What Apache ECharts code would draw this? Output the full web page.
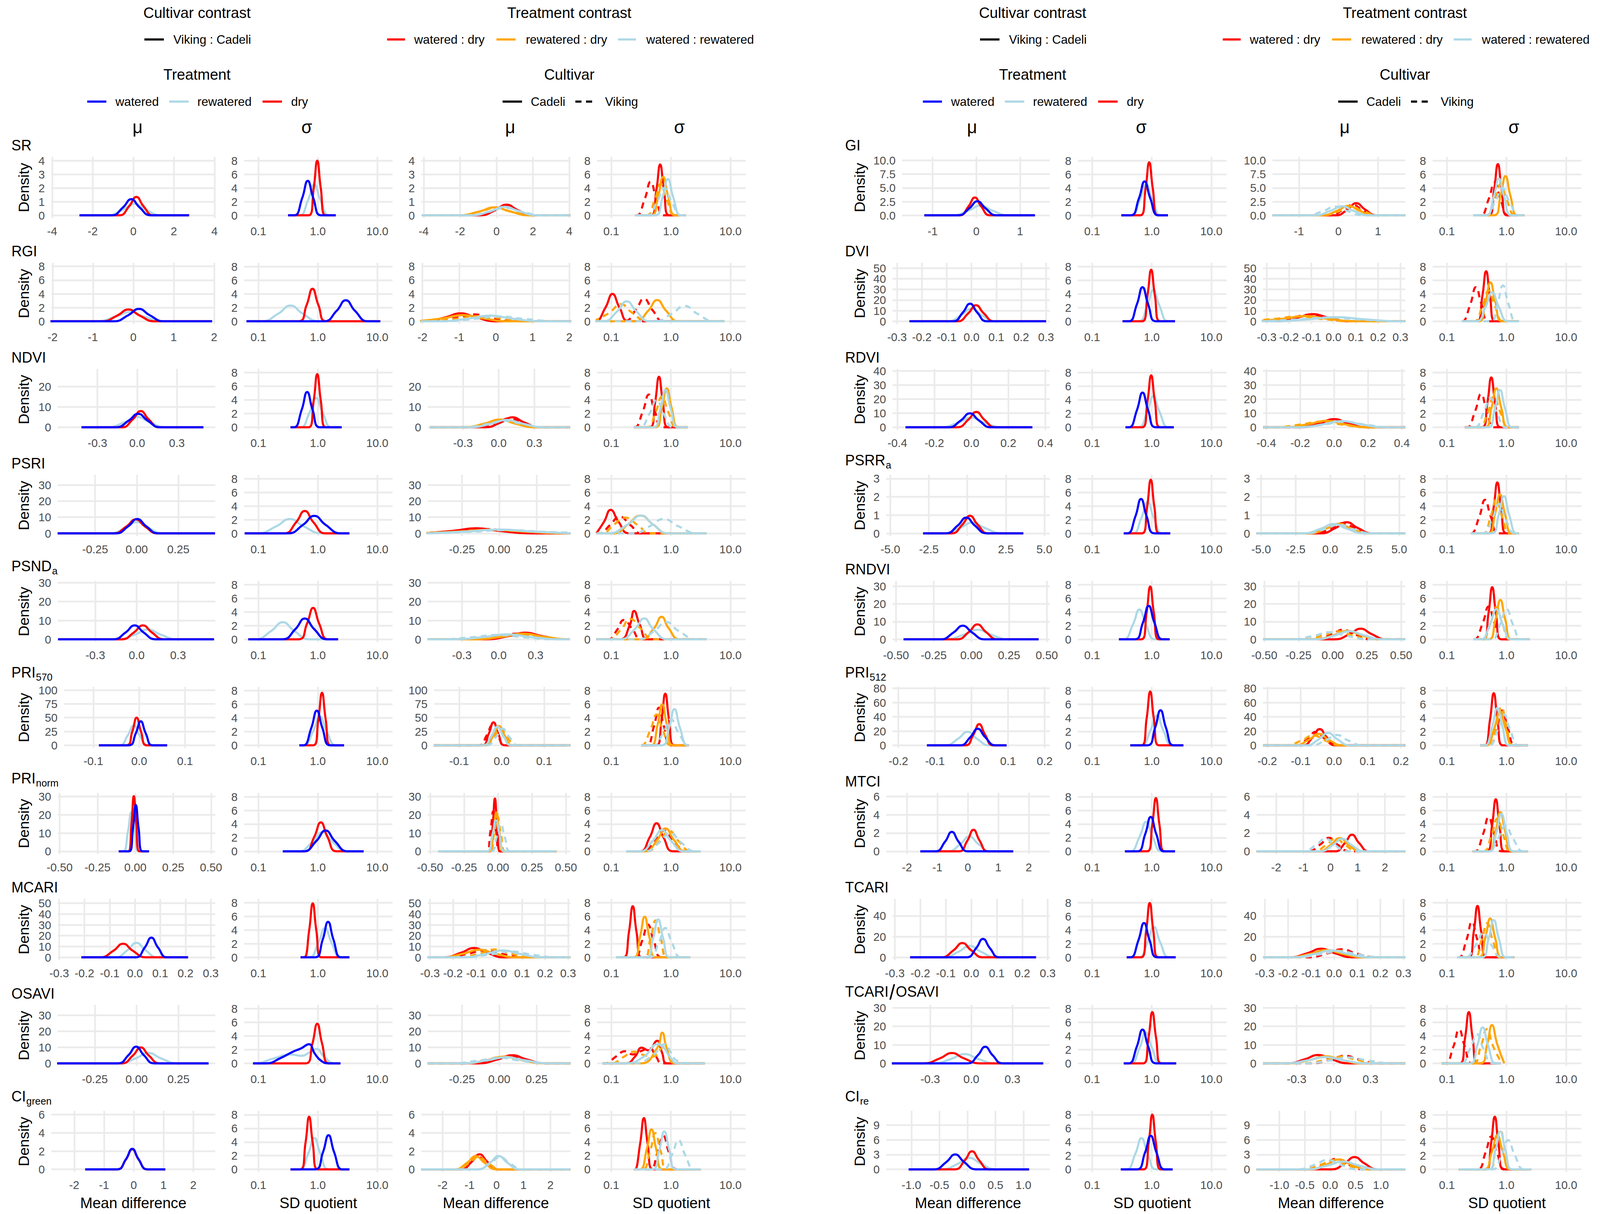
<!DOCTYPE html>
<html><head><meta charset="utf-8">
<script src="https://cdn.jsdelivr.net/npm/echarts@6/dist/echarts.min.js"></script>
<style>html,body{margin:0;padding:0;background:#fff;overflow:hidden}#c{width:4199px;height:3107px;transform-origin:0 0}</style>
</head><body><div id="c"></div>
<script>
// ---------------- DATA ----------------
// Row labels [main, subscript]
const namesLeft = [['SR',''],['RGI',''],['NDVI',''],['PSRI',''],['PSND','a'],['PRI','570'],['PRI','norm'],['MCARI',''],['OSAVI',''],['CI','green']];
const namesRight = [['GI',''],['DVI',''],['RDVI',''],['PSRR','a'],['RNDVI',''],['PRI','512'],['MTCI',''],['TCARI',''],['TCARI/OSAVI',''],['CI','re']];

// Mean-difference panels: x limits [cultivar-contrast panel, treatment-contrast panel]
const muXLimLeft = [[[-4.04,4.04],[-4.13,4.06]],[[-2.03,2.03],[-2.03,2.03]],[[-0.6,0.59],[-0.597,0.603]],[[-0.475,0.472],[-0.48,0.477]],[[-0.573,0.57],[-0.578,0.584]],[[-0.164,0.166],[-0.159,0.162]],[[-0.513,0.528],[-0.518,0.533]],[[-0.306,0.318],[-0.31,0.31]],[[-0.472,0.47],[-0.48,0.477]],[[-2.77,2.74],[-2.79,2.74]]];
const muXTicksLeft = [[-4,-2,0,2,4],[-2,-1,0,1,2],[-0.3,0,0.3],[-0.25,0,0.25],[-0.3,0,0.3],[-0.1,0,0.1],[-0.5,-0.25,0,0.25,0.5],[-0.3,-0.2,-0.1,0,0.1,0.2,0.3],[-0.25,0,0.25],[-2,-1,0,1,2]];
const muXDecLeft = [0,0,1,2,1,1,2,1,2,0];
const muYTicksLeft = [[0,1,2,3,4],[0,2,4,6,8],[0,10,20],[0,10,20,30],[0,10,20,30],[0,25,50,75,100],[0,10,20,30],[0,10,20,30,40,50],[0,10,20,30],[0,2,4,6]];
const muYMaxLeft = [4.07,8.1,27.4,34.5,29.5,100.6,30.5,51.4,34.7,6.1];
const muYDecLeft = [0,0,0,0,0,0,0,0,0,0];

const muXLimRight = [[[-1.7,1.68],[-1.67,1.69]],[[-0.318,0.315],[-0.317,0.322]],[[-0.426,0.424],[-0.42,0.42]],[[-5.27,5.35],[-5.33,5.44]],[[-0.523,0.52],[-0.51,0.53]],[[-0.216,0.214],[-0.213,0.213]],[[-2.68,2.69],[-2.72,2.75]],[[-0.309,0.308],[-0.308,0.308]],[[-0.575,0.572],[-0.573,0.582]],[[-1.45,1.47],[-1.45,1.48]]];
const muXTicksRight = [[-1,0,1],[-0.3,-0.2,-0.1,0,0.1,0.2,0.3],[-0.4,-0.2,0,0.2,0.4],[-5,-2.5,0,2.5,5],[-0.5,-0.25,0,0.25,0.5],[-0.2,-0.1,0,0.1,0.2],[-2,-1,0,1,2],[-0.3,-0.2,-0.1,0,0.1,0.2,0.3],[-0.3,0,0.3],[-1,-0.5,0,0.5,1]];
const muXDecRight = [0,1,1,1,2,1,0,1,1,1];
const muYTicksRight = [[0,2.5,5,7.5,10],[0,10,20,30,40,50],[0,10,20,30,40],[0,1,2,3],[0,10,20,30],[0,20,40,60,80],[0,2,4,6],[0,20,40],[0,10,20,30],[0,3,6,9]];
const muYMaxRight = [10.15,52.3,39.5,3.05,31.4,78,6.07,53.6,30.1,11.3];
const muYDecRight = [1,0,0,0,0,0,0,0,0,0];

// SD-quotient panels (x in log10 of the quotient)
const sdXLim = [-1.24, 1.255];
const sdXTicks = [-1, 0, 1];
const sdYTicks = [0, 2, 4, 6, 8];
const sdYMax = 8.15;

// Curves: [left foot, left half-max, peak, right half-max, right foot, peak density]
// or, for irregular shapes, an explicit list of [x, density] points.
// Cultivar contrast (Viking : Cadeli), per row: [watered, rewatered, dry]
const cvMuLeft = [
 [[-1.06,-0.5,-0.1,0.3,0.86,1.18],[-1.27,-0.5,0.05,0.6,1.37,0.85],[-0.69,-0.2,0.15,0.5,0.99,1.34]],
 [[-0.48,-0.12,0.14,0.4,0.76,1.81],[-0.92,-0.43,-0.08,0.27,0.76,1.35],[-0.77,-0.39,-0.12,0.15,0.53,1.72]],
 [[-0.16,-0.062,0.008,0.078,0.176,6.67],[-0.221,-0.092,0,0.092,0.221,5.1],[-0.115,-0.032,0.027,0.086,0.169,8.0]],
 [[-0.124,-0.05,0.003,0.056,0.13,8.9],[-0.161,-0.067,0,0.067,0.161,7.0],[-0.138,-0.061,-0.006,0.049,0.126,8.6]],
 [[-0.169,-0.079,-0.015,0.049,0.139,7.4],[-0.136,-0.01,0.08,0.17,0.296,5.2],[-0.109,-0.019,0.045,0.109,0.199,7.4]],
 [[-0.0225,-0.0074,0.0034,0.0142,0.0293,43.4],[-0.0432,-0.025,-0.012,0.001,0.0192,35.8],[-0.0282,-0.015,-0.0056,0.0038,0.017,50]],
 [[-0.041,-0.0155,0.003,0.0215,0.047,25.4],[-0.08,-0.049,-0.027,-0.005,0.026,21.4],[-0.047,-0.0256,-0.01,0.0056,0.027,30.2]],
 [[0.003,0.039,0.065,0.091,0.127,18.2],[-0.078,-0.029,0.006,0.041,0.09,13.4],[-0.137,-0.084,-0.047,-0.01,0.043,12.6]],
 [[-0.111,-0.048,-0.003,0.042,0.105,10.4],[-0.103,-0.002,0.07,0.142,0.243,6.5],[-0.088,-0.022,0.025,0.072,0.138,9.9]],
 [[-0.55,-0.26,-0.05,0.16,0.45,2.24],[-0.56,-0.26,-0.05,0.16,0.46,2.2],[-0.56,-0.26,-0.05,0.16,0.46,2.2]]
];
const cvSdLeft = [
 [[-0.393,-0.263,-0.17,-0.077,0.053,5.05],[-0.31,-0.164,-0.06,0.044,0.19,4.5],[-0.152,-0.069,-0.01,0.049,0.132,8.0]],
 [[0.103,0.317,0.47,0.623,0.837,3.08],[-0.94,-0.66,-0.46,-0.26,0.02,2.3],[-0.328,-0.189,-0.09,0.009,0.148,4.77]],
 [[-0.398,-0.271,-0.18,-0.089,0.038,5.17],[-0.294,-0.14,-0.03,0.08,0.234,4.3],[-0.154,-0.07,-0.01,0.05,0.134,7.78]],
 [[-0.502,-0.244,-0.06,0.124,0.382,2.56],[-1.008,-0.694,-0.47,-0.246,0.068,2.1],[-0.566,-0.364,-0.22,-0.076,0.126,3.27]],
 [[-0.592,-0.375,-0.22,-0.065,0.152,3.04],[-1.046,-0.78,-0.59,-0.4,-0.134,2.5],[-0.325,-0.182,-0.08,0.022,0.165,4.6]],
 [[-0.24,-0.11,-0.017,0.076,0.206,5.08],[-0.234,-0.077,0.035,0.147,0.304,4.2],[-0.076,0.009,0.07,0.131,0.216,7.7]],
 [[-0.24,-0.024,0.13,0.284,0.5,3.05],[-0.323,-0.088,0.08,0.248,0.483,2.8],[-0.216,-0.061,0.05,0.161,0.316,4.24]],
 [[-0.044,0.082,0.172,0.262,0.388,5.2],[-0.144,0.01,0.12,0.23,0.384,4.3],[-0.23,-0.146,-0.086,-0.026,0.058,7.9]],
 [[[-0.87,0],[-0.62,0.8],[-0.42,1.7],[-0.28,2.2],[-0.15,2.8],[-0.05,1.4],[0.05,0.4],[0.18,0]],
  [[-1.05,0],[-0.75,0.7],[-0.45,1.3],[-0.28,1.1],[-0.12,1.7],[-0.02,2.1],[0.1,1.0],[0.28,0]],
  [-0.204,-0.091,-0.01,0.071,0.184,5.8]],
 [[-0.046,0.086,0.18,0.274,0.406,5.0],[-0.305,-0.162,-0.06,0.042,0.185,4.6],[-0.293,-0.208,-0.147,-0.086,-0.001,7.7]]
];
// Treatment contrasts, per row: [watered:dry Cadeli, watered:dry Viking, rewatered:dry Cadeli, rewatered:dry Viking, watered:rewatered Cadeli, watered:rewatered Viking]
const trMuLeft = [
 [[-0.89,-0.05,0.55,1.15,1.99,0.78],[-1.11,-0.17,0.5,1.17,2.11,0.7],[-2.04,-0.91,-0.1,0.71,1.84,0.58],[-2.09,-0.9,-0.05,0.8,1.99,0.55],[-1.37,-0.31,0.45,1.21,2.27,0.62],[-1.54,-0.35,0.5,1.35,2.54,0.55]],
 [[-1.94,-1.37,-0.96,-0.55,0.02,1.15],[-1.73,-1.07,-0.6,-0.13,0.53,1.0],[-2.15,-1.42,-0.9,-0.38,0.35,0.9],[-1.91,-1.03,-0.4,0.23,1.11,0.75],[-1.52,-0.72,-0.15,0.42,1.22,0.82],[-1.51,-0.57,0.1,0.77,1.71,0.7]],
 [[-0.114,0.02,0.116,0.212,0.346,4.9],[-0.167,-0.017,0.09,0.197,0.347,4.4],[-0.288,-0.114,0.01,0.134,0.308,3.8],[-0.306,-0.11,0.03,0.17,0.366,3.3],[-0.242,-0.06,0.07,0.2,0.382,3.6],[-0.303,-0.097,0.05,0.197,0.403,3.2]],
 [[-0.516,-0.306,-0.156,-0.006,0.204,3.1],[-0.532,-0.28,-0.1,0.08,0.332,2.6],[-0.554,-0.26,-0.05,0.16,0.454,2.2],[-0.584,-0.255,-0.02,0.215,0.544,2.0],[-0.48,-0.2,0,0.2,0.48,2.35],[-0.514,-0.185,0.05,0.285,0.614,2.0]],
 [[-0.105,0.083,0.217,0.351,0.539,3.5],[-0.227,-0.007,0.15,0.307,0.527,3.0],[-0.177,0.043,0.2,0.357,0.577,3.0],[-0.346,-0.08,0.11,0.3,0.566,2.5],[-0.362,-0.11,0.07,0.25,0.502,2.6],[-0.49,-0.21,-0.01,0.19,0.47,2.3]],
 [[-0.0461,-0.0303,-0.019,-0.0077,0.0081,41.5],[-0.0532,-0.035,-0.022,-0.009,0.0092,36],[-0.0384,-0.0195,-0.006,0.0075,0.0264,34.7],[-0.0407,-0.0187,-0.003,0.0127,0.0347,30],[-0.0436,-0.024,-0.01,0.004,0.0236,33.6],[-0.0352,-0.0132,0.0025,0.0182,0.0402,30]],
 [[-0.062,-0.039,-0.023,-0.007,0.016,28.9],[-0.086,-0.056,-0.035,-0.014,0.016,22],[-0.065,-0.034,-0.012,0.01,0.041,21.3],[-0.064,-0.029,-0.004,0.021,0.056,19],[-0.081,-0.043,-0.015,0.013,0.051,17],[-0.054,-0.011,0.02,0.051,0.094,15]],
 [[-0.241,-0.164,-0.109,-0.054,0.023,8.6],[-0.237,-0.136,-0.064,0.008,0.109,6.5],[-0.247,-0.153,-0.086,-0.019,0.075,7.0],[-0.174,-0.083,-0.018,0.047,0.138,7.2],[-0.159,-0.057,0.016,0.089,0.191,6.4],[-0.154,-0.035,0.05,0.135,0.254,5.5]],
 [[-0.139,-0.007,0.087,0.181,0.313,5.0],[-0.204,-0.05,0.06,0.17,0.324,4.3],[-0.234,-0.077,0.035,0.147,0.304,4.2],[-0.271,-0.103,0.017,0.137,0.305,3.9],[-0.253,-0.079,0.045,0.169,0.343,3.8],[-0.331,-0.138,0,0.138,0.331,3.4]],
 [[-1.31,-0.92,-0.63,-0.34,0.05,1.65],[-1.47,-1.04,-0.73,-0.42,0.01,1.5],[-1.54,-1.09,-0.77,-0.45,0.0,1.45],[-1.51,-1.02,-0.67,-0.32,0.17,1.35],[-0.69,-0.24,0.08,0.4,0.85,1.46],[-0.71,-0.22,0.13,0.48,0.97,1.35]]
];
const trSdLeft = [
 [[-0.331,-0.243,-0.18,-0.117,-0.029,7.44],[-0.57,-0.436,-0.34,-0.244,-0.11,4.9],[-0.332,-0.214,-0.13,-0.046,0.072,5.6],[-0.41,-0.27,-0.17,-0.07,0.07,4.6],[-0.264,-0.139,-0.05,0.039,0.164,5.3],[-0.398,-0.23,-0.11,0.01,0.178,4.0]],
 [[-1.263,-1.098,-0.98,-0.862,-0.697,4.0],[-0.786,-0.59,-0.45,-0.31,-0.114,3.3],[-0.59,-0.38,-0.23,-0.08,0.13,3.1],[-1.296,-1.03,-0.84,-0.65,-0.384,2.5],[-1.124,-0.9,-0.74,-0.58,-0.356,2.92],[-0.274,0.02,0.23,0.44,0.734,2.25]],
 [[-0.354,-0.264,-0.2,-0.136,-0.046,7.4],[-0.605,-0.468,-0.37,-0.272,-0.135,4.8],[-0.267,-0.152,-0.07,0.012,0.127,5.7],[-0.402,-0.255,-0.15,-0.045,0.102,4.5],[-0.296,-0.176,-0.09,-0.004,0.116,5.45],[-0.523,-0.358,-0.24,-0.122,0.043,4.0]],
 [[-1.25,-1.12,-1.01,-0.88,-0.7,3.43],[-1.2,-1.02,-0.86,-0.68,-0.5,2.44],[-0.95,-0.72,-0.51,-0.3,-0.05,2.6],[-1.15,-0.97,-0.77,-0.55,-0.35,2.3],[-1.05,-0.72,-0.5,-0.3,-0.05,2.6],[-0.62,-0.35,-0.12,0.12,0.45,2.1]],
 [[-0.85,-0.69,-0.617,-0.52,-0.38,4.14],[-1.05,-0.9,-0.79,-0.64,-0.5,2.83],[-0.5,-0.28,-0.156,-0.04,0.15,3.3],[-1.05,-0.83,-0.686,-0.5,-0.3,3.0],[-0.85,-0.6,-0.448,-0.3,-0.05,3.06],[-0.55,-0.27,-0.08,0.12,0.45,2.54]],
 [[-0.243,-0.156,-0.094,-0.032,0.055,7.57],[-0.404,-0.285,-0.2,-0.115,0.004,5.5],[-0.332,-0.223,-0.145,-0.067,0.042,6.0],[-0.49,-0.344,-0.24,-0.136,0.01,4.5],[-0.154,-0.029,0.06,0.149,0.274,5.3],[-0.298,-0.124,0,0.124,0.298,3.8]],
 [[-0.516,-0.355,-0.24,-0.125,0.036,4.1],[-0.487,-0.267,-0.11,0.047,0.267,3.0],[-0.426,-0.23,-0.09,0.05,0.246,3.35],[-0.407,-0.187,-0.03,0.127,0.347,3.0],[-0.515,-0.302,-0.15,0.002,0.215,3.1],[-0.428,-0.184,-0.01,0.164,0.408,2.7]],
 [[-0.791,-0.703,-0.64,-0.577,-0.489,7.48],[-0.62,-0.483,-0.385,-0.287,-0.15,4.8],[-0.63,-0.519,-0.44,-0.361,-0.25,5.94],[-0.465,-0.343,-0.256,-0.169,-0.047,5.4],[-0.418,-0.299,-0.214,-0.129,-0.01,5.55],[-0.358,-0.204,-0.094,0.016,0.17,4.3]],
 [[[-0.75,0],[-0.6,1.0],[-0.49,2.3],[-0.38,1.9],[-0.23,3.3],[-0.15,1.6],[-0.06,0]],
  [[-1.1,0],[-0.92,1.0],[-0.77,1.76],[-0.64,1.3],[-0.5,1.8],[-0.36,2.2],[-0.25,1.0],[-0.15,0]],
  [-0.5,-0.23,-0.144,-0.07,0.07,4.48],
  [[-1.0,0],[-0.8,0.9],[-0.62,1.7],[-0.45,1.2],[-0.3,1.0],[-0.12,2.4],[-0.02,1.0],[0.1,0]],
  [[-0.75,0],[-0.45,1.0],[-0.22,2.8],[-0.12,2.3],[-0.02,1.0],[0.12,0]],
  [[-0.6,0],[-0.3,1.2],[-0.1,2.8],[0.0,1.6],[0.1,0.4],[0.35,0]]],
 [[-0.604,-0.516,-0.453,-0.39,-0.302,7.5],[-0.358,-0.224,-0.128,-0.032,0.102,4.9],[-0.517,-0.405,-0.325,-0.245,-0.133,5.85],[-0.474,-0.349,-0.26,-0.171,-0.046,5.3],[-0.314,-0.195,-0.11,-0.025,0.094,5.55],[-0.136,0.018,0.128,0.238,0.392,4.25]]
];
const cvMuRight = [
 [[-0.415,-0.159,0.024,0.207,0.463,2.57],[-0.547,-0.173,0.094,0.361,0.735,1.76],[-0.383,-0.18,-0.035,0.11,0.313,3.24]],
 [[-0.074,-0.035,-0.006,0.023,0.062,16.5],[-0.096,-0.04,0,0.04,0.096,11.8],[-0.056,-0.013,0.018,0.049,0.092,15.1]],
 [[-0.122,-0.056,-0.008,0.04,0.106,9.9],[-0.166,-0.069,0,0.069,0.166,6.8],[-0.076,-0.016,0.027,0.07,0.13,10.9]],
 [[-1.39,-0.62,-0.07,0.48,1.25,0.86],[-1.59,-0.47,0.33,1.13,2.25,0.59],[-1.01,-0.32,0.17,0.66,1.35,0.96]],
 [[-0.203,-0.118,-0.057,0.004,0.089,7.7],[-0.169,-0.047,0.04,0.127,0.249,5.4],[-0.094,-0.016,0.04,0.096,0.174,8.4]],
 [[-0.031,-0.003,0.017,0.037,0.065,23.3],[-0.071,-0.036,-0.011,0.014,0.049,18.9],[-0.017,0.005,0.021,0.037,0.059,29.7]],
 [[-1.053,-0.745,-0.525,-0.305,0.003,2.12],[-0.646,-0.24,0.05,0.34,0.746,1.62],[-0.294,-0.014,0.186,0.386,0.666,2.34]],
 [[-0.018,0.019,0.046,0.073,0.11,17.7],[-0.109,-0.049,-0.006,0.037,0.097,11.0],[-0.117,-0.069,-0.035,-0.001,0.047,13.8]],
 [[-0.026,0.048,0.101,0.154,0.228,8.93],[-0.275,-0.143,-0.049,0.045,0.177,5.0],[-0.346,-0.227,-0.142,-0.057,0.062,5.56]],
 [[-0.592,-0.374,-0.218,-0.062,0.156,3.02],[-0.444,-0.164,0.036,0.236,0.516,2.33],[-0.225,-0.046,0.082,0.21,0.389,3.66]]
];
const cvSdRight = [
 [[-0.348,-0.215,-0.12,-0.025,0.108,4.96],[-0.345,-0.199,-0.095,0.009,0.155,4.5],[-0.189,-0.104,-0.043,0.018,0.103,7.75]],
 [[-0.381,-0.249,-0.155,-0.061,0.071,5.0],[-0.221,-0.077,0.026,0.129,0.273,4.55],[-0.159,-0.072,-0.01,0.052,0.139,7.54]],
 [[-0.378,-0.248,-0.155,-0.062,0.068,5.08],[-0.224,-0.078,0.026,0.13,0.276,4.52],[-0.159,-0.072,-0.01,0.052,0.139,7.6]],
 [[-0.403,-0.273,-0.18,-0.087,0.043,5.03],[-0.317,-0.173,-0.07,0.033,0.177,4.57],[-0.161,-0.077,-0.017,0.043,0.127,7.84]],
 [[-0.282,-0.148,-0.052,0.044,0.178,4.9],[-0.466,-0.315,-0.207,-0.099,0.052,4.36],[-0.172,-0.087,-0.026,0.035,0.12,7.73]],
 [[-0.071,0.056,0.147,0.238,0.365,5.14],[-0.173,-0.022,0.086,0.194,0.345,4.36],[-0.17,-0.086,-0.026,0.034,0.118,7.88]],
 [[-0.24,-0.11,-0.017,0.076,0.206,5.04],[-0.357,-0.204,-0.095,0.014,0.167,4.3],[-0.075,0.009,0.069,0.129,0.213,7.8]],
 [[-0.353,-0.223,-0.13,-0.037,0.093,5.03],[-0.217,-0.07,0.035,0.14,0.287,4.47],[-0.176,-0.093,-0.034,0.025,0.108,7.96]],
 [[-0.383,-0.25,-0.155,-0.06,0.073,4.94],[-0.35,-0.204,-0.1,0.004,0.15,4.5],[-0.142,-0.054,0.009,0.072,0.16,7.5]],
 [[-0.247,-0.113,-0.017,0.079,0.213,4.91],[-0.419,-0.275,-0.172,-0.069,0.075,4.57],[-0.133,-0.05,0.009,0.068,0.151,8.0]]
];
const trMuRight = [
 [[-0.064,0.236,0.45,0.664,0.964,2.2],[-0.233,0.113,0.36,0.607,0.953,1.9],[-0.403,-0.022,0.25,0.522,0.903,1.73],[-0.376,0.03,0.32,0.61,1.016,1.6],[-0.594,-0.195,0.09,0.375,0.774,1.65],[-0.8,-0.38,-0.08,0.22,0.64,1.58]],
 [[-0.261,-0.163,-0.093,-0.023,0.075,6.7],[-0.302,-0.193,-0.115,-0.037,0.072,6.0],[-0.353,-0.221,-0.127,-0.033,0.099,5.0],[-0.41,-0.264,-0.16,-0.056,0.09,4.5],[-0.276,-0.108,0.012,0.132,0.3,3.9],[-0.335,-0.153,-0.023,0.107,0.289,3.6]],
 [[-0.194,-0.081,0,0.081,0.194,5.8],[-0.231,-0.105,-0.015,0.075,0.201,5.2],[-0.291,-0.148,-0.046,0.056,0.199,4.6],[-0.36,-0.195,-0.077,0.041,0.206,4.0],[-0.211,-0.061,0.046,0.153,0.303,4.4],[-0.223,-0.058,0.06,0.178,0.343,4.0]],
 [[-0.66,0.42,1.19,1.96,3.04,0.61],[-1.09,0.09,0.93,1.77,2.95,0.56],[-1.53,-0.27,0.63,1.53,2.79,0.52],[-1.81,-0.49,0.45,1.39,2.71,0.5],[-1.95,-0.66,0.26,1.18,2.47,0.51],[-1.77,-0.37,0.63,1.63,3.03,0.47]],
 [[0.017,0.126,0.204,0.282,0.391,6.0],[-0.132,-0.01,0.077,0.164,0.286,5.4],[-0.127,0.01,0.108,0.206,0.343,4.8],[-0.212,-0.066,0.038,0.142,0.288,4.5],[-0.124,0.02,0.123,0.226,0.37,4.56],[-0.303,-0.138,-0.02,0.098,0.263,4.0]],
 [[-0.093,-0.064,-0.043,-0.022,0.007,22.7],[-0.113,-0.079,-0.054,-0.029,0.005,19],[-0.117,-0.075,-0.046,-0.017,0.025,16],[-0.144,-0.096,-0.062,-0.028,0.02,14],[-0.083,-0.045,-0.018,0.009,0.047,17.4],[-0.069,-0.024,0.008,0.04,0.085,14.5]],
 [[0.166,0.53,0.79,1.05,1.414,1.81],[-0.828,-0.38,-0.06,0.26,0.708,1.47],[-0.428,0.02,0.34,0.66,1.108,1.45],[-0.626,-0.15,0.19,0.53,1.006,1.4],[-0.386,0.09,0.43,0.77,1.246,1.38],[-1.006,-0.53,-0.19,0.15,0.626,1.38]],
 [[-0.193,-0.113,-0.056,0.001,0.081,8.3],[-0.113,-0.028,0.033,0.094,0.179,7.7],[-0.194,-0.1,-0.033,0.034,0.128,7.0],[-0.162,-0.061,0.011,0.083,0.184,6.5],[-0.181,-0.082,-0.011,0.06,0.159,6.6],[-0.172,-0.059,0.022,0.103,0.216,5.8]],
 [[-0.375,-0.229,-0.125,-0.021,0.125,4.54],[-0.184,-0.023,0.092,0.207,0.368,4.1],[-0.361,-0.187,-0.063,0.061,0.235,3.8],[-0.249,-0.067,0.063,0.193,0.375,3.6],[-0.399,-0.203,-0.063,0.077,0.273,3.37],[-0.228,-0.022,0.125,0.272,0.478,3.2]],
 [[0.029,0.292,0.48,0.668,0.931,2.5],[-0.408,-0.1,0.12,0.34,0.648,2.15],[-0.394,-0.065,0.17,0.405,0.734,2.0],[-0.53,-0.18,0.07,0.32,0.67,1.9],[-0.465,-0.045,0.255,0.555,0.975,1.57],[-0.638,-0.295,-0.05,0.195,0.538,1.92]]
];
const trSdRight = [
 [[-0.296,-0.208,-0.145,-0.082,0.006,7.5],[-0.435,-0.298,-0.2,-0.102,0.035,4.8],[-0.214,-0.099,-0.017,0.065,0.18,5.74],[-0.35,-0.204,-0.1,0.004,0.15,4.5],[-0.339,-0.216,-0.128,-0.04,0.083,5.36],[-0.353,-0.188,-0.07,0.048,0.213,4.0]],
 [[-0.496,-0.406,-0.342,-0.278,-0.188,7.33],[-0.739,-0.607,-0.513,-0.419,-0.287,5.0],[-0.467,-0.352,-0.27,-0.188,-0.073,5.7],[-0.55,-0.404,-0.3,-0.196,-0.05,4.5],[-0.504,-0.35,-0.24,-0.13,0.024,4.25],[-0.276,-0.15,-0.06,0.03,0.156,5.23]],
 [[-0.41,-0.32,-0.256,-0.192,-0.102,7.3],[-0.66,-0.524,-0.427,-0.33,-0.194,4.86],[-0.367,-0.252,-0.17,-0.088,0.027,5.7],[-0.46,-0.314,-0.21,-0.106,0.04,4.5],[-0.316,-0.196,-0.11,-0.024,0.096,5.45],[-0.537,-0.383,-0.273,-0.163,-0.009,4.3]],
 [[-0.305,-0.217,-0.154,-0.091,-0.003,7.44],[-0.59,-0.456,-0.36,-0.264,-0.13,4.9],[-0.309,-0.193,-0.11,-0.027,0.089,5.68],[-0.396,-0.264,-0.17,-0.076,0.056,5.0],[-0.252,-0.13,-0.043,0.044,0.166,5.43],[-0.392,-0.238,-0.128,-0.018,0.136,4.3]],
 [[-0.389,-0.302,-0.24,-0.178,-0.091,7.63],[-0.535,-0.398,-0.3,-0.202,-0.065,4.8],[-0.3,-0.185,-0.103,-0.021,0.094,5.76],[-0.41,-0.27,-0.17,-0.07,0.07,4.7],[-0.427,-0.277,-0.17,-0.063,0.087,4.4],[-0.254,-0.106,0,0.106,0.254,4.42]],
 [[-0.363,-0.276,-0.214,-0.152,-0.065,7.63],[-0.291,-0.162,-0.07,0.022,0.151,5.1],[-0.336,-0.204,-0.11,-0.016,0.116,5.0],[-0.287,-0.169,-0.085,-0.001,0.117,5.6],[-0.36,-0.24,-0.154,-0.068,0.052,5.45],[-0.293,-0.147,-0.043,0.061,0.207,4.5]],
 [[-0.329,-0.242,-0.18,-0.118,-0.031,7.63],[-0.526,-0.394,-0.3,-0.206,-0.074,5.0],[-0.3,-0.185,-0.103,-0.021,0.094,5.72],[-0.389,-0.252,-0.154,-0.056,0.081,4.8],[-0.291,-0.171,-0.085,0.001,0.121,5.47],[-0.315,-0.141,-0.017,0.107,0.281,3.8]],
 [[-0.636,-0.549,-0.487,-0.425,-0.338,7.53],[-0.796,-0.67,-0.58,-0.49,-0.364,5.2],[-0.473,-0.357,-0.274,-0.191,-0.075,5.68],[-0.551,-0.419,-0.325,-0.231,-0.099,5.0],[-0.42,-0.3,-0.214,-0.128,-0.008,5.46],[-0.697,-0.515,-0.385,-0.255,-0.073,3.6]],
 [[-0.783,-0.695,-0.632,-0.569,-0.481,7.5],[-1.023,-0.89,-0.795,-0.7,-0.567,4.94],[-0.442,-0.324,-0.245,-0.156,-0.038,5.6],[-0.57,-0.43,-0.33,-0.225,-0.08,5.0],[-0.616,-0.49,-0.4,-0.31,-0.184,5.26],[-0.769,-0.612,-0.49,-0.388,-0.231,4.26]],
 [[-0.343,-0.258,-0.197,-0.136,-0.051,7.7],[-0.491,-0.354,-0.256,-0.158,-0.021,4.8],[-0.38,-0.248,-0.154,-0.06,0.072,5.0],[-0.297,-0.184,-0.103,-0.022,0.091,5.77],[-0.307,-0.188,-0.103,-0.018,0.101,5.55],[-0.238,-0.084,0.026,0.136,0.29,4.27]]
];
// Flat zero-density extent drawn in each panel [from, to], per row: 4 panels
const tailsLeft = [
 [[-2.65,2.75],[-0.5,0.3],[-4.1,4.06],[-0.6,0.25]],
 [[-2.05,1.95],[-1.2,1.05],[-2.05,2.05],[-1.3,0.9]],
 [[-0.42,0.5],[-0.46,0.4],[-0.58,0.6],[-0.62,0.28]],
 [[-0.475,0.47],[-1.23,0.53],[-0.48,0.477],[-1.25,0.6]],
 [[-0.57,0.56],[-1.17,0.34],[-0.58,0.58],[-1.25,0.6]],
 [[-0.088,0.061],[-0.31,0.44],[-0.16,0.162],[-0.5,0.3]],
 [[-0.11,0.09],[-0.59,0.77],[-0.44,0.43],[-0.75,0.5]],
 [[-0.212,0.21],[-0.29,0.53],[-0.31,0.31],[-0.92,0.32]],
 [[-0.475,0.43],[-1.09,0.38],[-0.48,0.477],[-1.15,0.57]],
 [[-1.63,1.06],[-0.46,0.53],[-2.79,2.74],[-0.62,0.5]]
];
const tailsRight = [
 [[-1.19,1.34],[-0.51,0.27],[-1.67,1.69],[-0.55,0.3]],
 [[-0.25,0.3],[-0.49,0.39],[-0.317,0.322],[-0.75,0.21]],
 [[-0.356,0.33],[-0.44,0.37],[-0.42,0.42],[-0.7,0.21]],
 [[-2.87,3.63],[-0.47,0.31],[-5.33,5.44],[-0.6,0.21]],
 [[-0.45,0.446],[-0.55,0.3],[-0.51,0.53],[-0.55,0.385]],
 [[-0.122,0.096],[-0.36,0.53],[-0.213,0.213],[-0.44,0.36]],
 [[-1.56,1.49],[-0.45,0.39],[-2.72,2.75],[-0.57,0.36]],
 [[-0.24,0.254],[-0.42,0.4],[-0.308,0.308],[-0.83,0.13]],
 [[-0.58,0.524],[-0.47,0.41],[-0.573,0.582],[-1.09,-0.1]],
 [[-1.05,1.1],[-0.52,0.35],[-1.45,1.48],[-0.8,0.41]]
];

// ---------------- STYLE / LAYOUT ----------------
// The browser viewport may be narrower than the design width; squeeze horizontally to fit.
const DESIGN_W = 4199;
const fitScale = Math.min(1, window.innerWidth / DESIGN_W);
document.getElementById('c').style.transform = 'scaleX(' + fitScale + ')';

const FONT = '"Liberation Sans", Arial, Helvetica, sans-serif';
const TICK_FS = 30, TITLE_FS = 38, LEG_FS = 32, SUB_FS = 26;
const GRID_COL = '#EBEBEB', GRID_W = 4.5, LINE_W = 5.5, DASH = [16, 12];
const BLUE = '#0000FF', LBLUE = '#ADD8E6', RED = '#FF0000', ORANGE = '#FFA500';
const TRT_STYLE = [{color: BLUE}, {color: LBLUE}, {color: RED}];           // watered, rewatered, dry
const TRT_ORDER = [1, 2, 0];                                               // drawing order
const CON_STYLE = [{color: RED}, {color: RED, dash: true}, {color: ORANGE}, {color: ORANGE, dash: true}, {color: LBLUE}, {color: LBLUE, dash: true}];

const halves = [
  {names: namesLeft, muLim: muXLimLeft, muTicks: muXTicksLeft, muDec: muXDecLeft, yTicks: muYTicksLeft, yMax: muYMaxLeft, yDec: muYDecLeft,
   cvMu: cvMuLeft, cvSd: cvSdLeft, trMu: trMuLeft, trSd: trSdLeft, tails: tailsLeft,
   labelStart: [101, 607, 1072, 1533], rightEdge: [565, 1030, 1497, 1957], rowLabelX: 30, densX: 63, dxLeg: 0, dxHead: 0},
  {names: namesRight, muLim: muXLimRight, muTicks: muXTicksRight, muDec: muXDecRight, yTicks: muYTicksRight, yMax: muYMaxRight, yDec: muYDecRight,
   cvMu: cvMuRight, cvSd: cvSdRight, trMu: trMuRight, trSd: trSdRight, tails: tailsRight,
   labelStart: [2292, 2795, 3264, 3726], rightEdge: [2755, 3219, 3688, 4150], rowLabelX: 2218, densX: 2257, dxLeg: 2193, dxHead: 2190}
];

const ctx = document.createElement('canvas').getContext('2d');
function tw(s, size) { ctx.font = size + 'px ' + FONT; return ctx.measureText(s).width; }
function rowY0(r) { return 551 + 271.3 * r; }

const grids = [], xAxes = [], yAxes = [], series = [], graphics = [];

function curvePoints(c, tail) {
  let pts;
  if (Array.isArray(c[0])) pts = c.map(p => p.slice());
  else pts = [[c[0], 0], [c[1], c[5] / 2], [c[2], c[5]], [c[3], c[5] / 2], [c[4], 0]];
  if (tail[0] < pts[0][0]) pts.unshift([tail[0], 0]);
  if (tail[1] > pts[pts.length - 1][0]) pts.push([tail[1], 0]);
  return pts;
}

// gridTicks: where split lines go; labelTicks: which of them carry a label
function axisCommon(gridTicks, labelTicks, fmt, margin, showGrid) {
  return {
    type: 'value', axisLine: {show: false},
    axisTick: {show: false, customValues: gridTicks},
    splitLine: {show: showGrid, lineStyle: {color: GRID_COL, width: GRID_W}},
    axisLabel: {customValues: labelTicks, formatter: fmt, fontSize: TICK_FS, color: '#4D4D4D', fontFamily: FONT,
                margin: margin, hideOverlap: false, showMinLabel: true, showMaxLabel: true}
  };
}

function addPanel(H, r, c, xlim, xticks, xfmt, yticks, ymax, yfmt, curves, tail) {
  const gi = grids.length;
  const maxW = Math.max.apply(null, yticks.map(v => tw(yfmt(v), TICK_FS)));
  const left = H.labelStart[c] + maxW + 17;
  const Y0 = rowY0(r);
  grids.push({left: left, top: Y0 - 149.6, width: H.rightEdge[c] - left, height: 156.7, outerBoundsMode: 'none', containLabel: false});
  xAxes.push(Object.assign({gridIndex: gi, min: xlim[0], max: xlim[1]}, axisCommon(xticks, xticks, xfmt, 18, true)));
  // y tick labels are split over two coincident axes (even / odd ticks) so that the
  // closely spaced labels are all kept, as in the original figure
  const even = yticks.filter((v, i) => i % 2 === 0), odd = yticks.filter((v, i) => i % 2 === 1);
  const yi = yAxes.length;
  const yr = {min: -0.05 * ymax, max: 1.05 * ymax};
  yAxes.push(Object.assign({gridIndex: gi, position: 'left'}, yr, axisCommon(yticks, even, yfmt, 17, true)));
  if (odd.length) yAxes.push(Object.assign({gridIndex: gi, position: 'left', offset: 0}, yr, axisCommon(odd, odd, yfmt, 17, false)));
  curves.forEach(([cv, st]) => {
    series.push({
      type: 'line', xAxisIndex: gi, yAxisIndex: yi, data: curvePoints(cv, tail),
      smooth: 0.5, symbol: 'none', showSymbol: false, clip: true, silent: true,
      lineStyle: {color: st.color, width: LINE_W, type: st.dash ? DASH : 'solid', cap: 'butt'},
      emphasis: {disabled: true}
    });
  });
  return {left: left, right: H.rightEdge[c]};
}

function addText(x, y, s, size, opts) {
  const o = opts || {};
  graphics.push({
    type: 'text', x: x, y: y, rotation: o.rotation || 0, silent: true,
    style: {text: s, font: size + 'px ' + FONT, fill: o.fill || '#000000',
            align: o.align || 'center', textAlign: o.align || 'center',
            verticalAlign: 'middle', textVerticalAlign: 'middle'}
  });
}
function addKey(x1, x2, y, color, dash) {
  graphics.push({type: 'line', silent: true, shape: {x1: x1, y1: y, x2: x2, y2: y},
    style: {stroke: color, lineWidth: LINE_W, lineDash: dash ? DASH : null}});
}
function rowLabel(x, Y0, name) {
  const main = name[0], sub = name[1];
  if (main.indexOf('/') >= 0) {
    const y = Y0 - 184;
    const parts = main.split('/');
    addText(x, y, parts[0], TITLE_FS, {align: 'left'});
    const x2 = x + tw(parts[0], TITLE_FS) + 2;
    addText(x2, y + 2, '/', 54, {align: 'left'});
    addText(x2 + tw('/', 54) + 2, y, parts[1], TITLE_FS, {align: 'left'});
    return;
  }
  const y = sub ? Y0 - 187 : Y0 - 179;
  addText(x, y, main, TITLE_FS, {align: 'left'});
  if (sub) addText(x + tw(main, TITLE_FS) + 1, y + 12, sub, SUB_FS, {align: 'left'});
}

const sdFmt = v => Math.pow(10, v).toFixed(1);
const sdYFmt = v => v.toFixed(0);

halves.forEach(H => {
  let lastRects = null;
  for (let r = 0; r < 10; r++) {
    const xfmt = (d => v => v.toFixed(d))(H.muDec[r]);
    const yfmt = (d => v => v.toFixed(d))(H.yDec[r]);
    const rects = [];
    rects.push(addPanel(H, r, 0, H.muLim[r][0], H.muTicks[r], xfmt, H.yTicks[r], H.yMax[r], yfmt,
      TRT_ORDER.map(i => [H.cvMu[r][i], TRT_STYLE[i]]), H.tails[r][0]));
    rects.push(addPanel(H, r, 1, sdXLim, sdXTicks, sdFmt, sdYTicks, sdYMax, sdYFmt,
      TRT_ORDER.map(i => [H.cvSd[r][i], TRT_STYLE[i]]), H.tails[r][1]));
    rects.push(addPanel(H, r, 2, H.muLim[r][1], H.muTicks[r], xfmt, H.yTicks[r], H.yMax[r], yfmt,
      H.trMu[r].map((cv, i) => [cv, CON_STYLE[i]]), H.tails[r][2]));
    rects.push(addPanel(H, r, 3, sdXLim, sdXTicks, sdFmt, sdYTicks, sdYMax, sdYFmt,
      H.trSd[r].map((cv, i) => [cv, CON_STYLE[i]]), H.tails[r][3]));
    const Y0 = rowY0(r);
    rowLabel(H.rowLabelX, Y0, H.names[r]);
    addText(H.densX, Y0 - 71, 'Density', TITLE_FS, {rotation: Math.PI / 2});
    lastRects = rects;
  }
  const xt = ['Mean difference', 'SD quotient', 'Mean difference', 'SD quotient'];
  lastRects.forEach((rc, i) => addText((rc.left + rc.right) / 2, 3078, xt[i], 39));

  const dh = H.dxHead;
  addText(361 + dh, 325, 'μ', 46); addText(805 + dh, 325, 'σ', 46);
  addText(1339 + dh, 325, 'μ', 46); addText(1783 + dh, 325, 'σ', 46);

  const d = H.dxLeg;
  addText(517 + d, 32, 'Cultivar contrast', 39);
  addKey(379 + d, 430 + d, 101, '#000000', false); addText(455 + d, 101, 'Viking : Cadeli', LEG_FS, {align: 'left'});
  addText(1494 + d, 32, 'Treatment contrast', 39);
  addKey(1016 + d, 1063 + d, 101, RED, false); addText(1087 + d, 101, 'watered : dry', LEG_FS, {align: 'left'});
  addKey(1303 + d, 1353 + d, 101, ORANGE, false); addText(1380 + d, 101, 'rewatered : dry', LEG_FS, {align: 'left'});
  addKey(1622 + d, 1669 + d, 101, LBLUE, false); addText(1696 + d, 101, 'watered : rewatered', LEG_FS, {align: 'left'});
  addText(517 + d, 190, 'Treatment', 39);
  addKey(229 + d, 279 + d, 260, BLUE, false); addText(303 + d, 260, 'watered', LEG_FS, {align: 'left'});
  addKey(444 + d, 495 + d, 260, LBLUE, false); addText(518 + d, 260, 'rewatered', LEG_FS, {align: 'left'});
  addKey(689 + d, 740 + d, 260, RED, false); addText(764 + d, 260, 'dry', LEG_FS, {align: 'left'});
  addText(1494 + d, 190, 'Cultivar', 39);
  addKey(1319 + d, 1370 + d, 260, '#000000', false); addText(1393 + d, 260, 'Cadeli', LEG_FS, {align: 'left'});
  addKey(1510 + d, 1561 + d, 260, '#000000', true); addText(1588 + d, 260, 'Viking', LEG_FS, {align: 'left'});
});

const chart = echarts.init(document.getElementById('c'), null, {renderer: 'svg'});
chart.setOption({
  animation: false,
  backgroundColor: '#FFFFFF',
  textStyle: {fontFamily: FONT},
  grid: grids, xAxis: xAxes, yAxis: yAxes, series: series,
  graphic: {elements: graphics}
});
</script></body></html>
